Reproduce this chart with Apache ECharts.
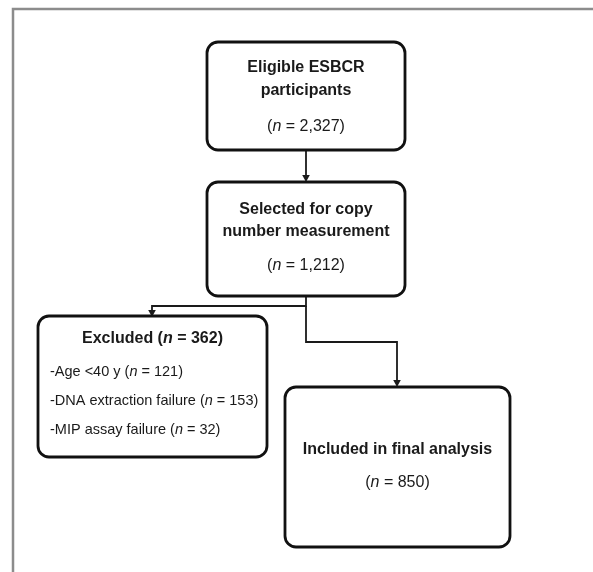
<!DOCTYPE html>
<html><head><meta charset="utf-8">
<script src="https://cdn.jsdelivr.net/npm/echarts@6/dist/echarts.min.js"></script>
<style>html,body{margin:0;padding:0;background:#fff}#c{width:593px;height:572px}</style>
</head><body><div id="c"></div>
<script>
// ---- content ----
const boxTitles = [['Eligible ESBCR', 'participants'], ['Selected for copy', 'number measurement'], ['Excluded'], ['Included in final analysis']];
const boxCounts = ['2,327', '1,212', '362', '850'];
const exclusionReasons = ['Age <40 y', 'DNA extraction failure', 'MIP assay failure'];
const exclusionCounts = ['121', '153', '32'];

// ---- layout (drawing coordinates on hidden 0..593 / 0..572 axes) ----
const layout = {
  boxes: [
    {x0: 207, x1: 405, y0: 42, y1: 150, titleY: [68, 91], countY: 127, inline: false},
    {x0: 207, x1: 405, y0: 182, y1: 296, titleY: [210, 232], countY: 266, inline: false},
    {x0: 38, x1: 267, y0: 316, y1: 457, titleY: [339], countY: null, inline: true},
    {x0: 285, x1: 510, y0: 387, y1: 547, titleY: [450], countY: 483, inline: false}
  ],
  reasonsX: 50,
  reasonsY: [372, 401, 430],
  connectors: [
    [[306, 150], [306, 182]],
    [[306, 296], [306, 306], [152, 306], [152, 317]],
    [[306, 306], [306, 342], [397, 342], [397, 387]]
  ],
  frame: [[13, 572], [13, 9], [593, 9]]
};

const FF = '"Liberation Sans", Arial, Helvetica, sans-serif';
const INK = '#1a1a1a';
function rich(size, weight) {
  return {
    i: {fontStyle: 'italic', fontWeight: weight, fontSize: size, fontFamily: FF, fill: INK}
  };
}

function renderItem(params, api) {
  const children = [];
  const P = (x, y) => api.coord([x, y]);
  // frame
  children.push({type: 'polyline', shape: {points: layout.frame.map(p => P(p[0], p[1]))},
    style: {stroke: '#8c8c8c', lineWidth: 2.5, fill: null}});
  // connectors
  layout.connectors.forEach(c => {
    const pts = c.map(p => P(p[0], p[1]));
    const end = pts[pts.length - 1], prev = pts[pts.length - 2];
    const dx = end[0] - prev[0], dy = end[1] - prev[1];
    const len = Math.hypot(dx, dy) || 1;
    const ux = dx / len, uy = dy / len;
    const h = 7, w = 3.8;
    const bx = end[0] - ux * h, by = end[1] - uy * h;
    const linePts = pts.slice(0, -1).concat([[bx, by]]);
    children.push({type: 'polyline', shape: {points: linePts}, style: {stroke: INK, lineWidth: 1.8, fill: null}});
    children.push({type: 'polygon', shape: {points: [end, [bx - uy * w, by + ux * w], [bx + uy * w, by - ux * w]]},
      style: {fill: INK}});
  });
  // boxes
  layout.boxes.forEach((b, k) => {
    const p0 = P(b.x0, b.y0), p1 = P(b.x1, b.y1);
    children.push({type: 'rect', shape: {x: p0[0], y: p0[1], width: p1[0] - p0[0], height: p1[1] - p0[1], r: 11},
      style: {stroke: '#111', lineWidth: 2.8, fill: '#fff'}});
    const cx = (p0[0] + p1[0]) / 2;
    const titles = boxTitles[k];
    titles.forEach((t, j) => {
      const isLast = j === titles.length - 1;
      const txt = (b.inline && isLast) ? t + ' ({i|n} = ' + boxCounts[k] + ')' : t;
      children.push({type: 'text', style: {
        text: txt, x: cx, y: P(0, b.titleY[j])[1], align: 'center', verticalAlign: 'middle',
        fontSize: 16, fontWeight: 'bold', fontFamily: FF, fill: INK, rich: rich(16, 'bold')}});
    });
    if (!b.inline && b.countY != null) {
      children.push({type: 'text', style: {
        text: '({i|n} = ' + boxCounts[k] + ')', x: cx, y: P(0, b.countY)[1], align: 'center', verticalAlign: 'middle',
        fontSize: 16, fontWeight: 'normal', fontFamily: FF, fill: INK, rich: rich(16, 'normal')}});
    }
  });
  // exclusion reasons
  exclusionReasons.forEach((r, j) => {
    const pt = P(layout.reasonsX, layout.reasonsY[j]);
    children.push({type: 'text', style: {
      text: '-' + r + ' ({i|n} = ' + exclusionCounts[j] + ')', x: pt[0], y: pt[1], align: 'left', verticalAlign: 'middle',
      fontSize: 14.5, fontWeight: 'normal', fontFamily: FF, fill: INK, rich: rich(14.5, 'normal')}});
  });
  return {type: 'group', children};
}

const chart = echarts.init(document.getElementById('c'), null, {renderer: 'canvas'});
chart.setOption({
  backgroundColor: '#fff',
  animation: false,
  grid: {left: 0, right: 0, top: 0, bottom: 0},
  xAxis: {type: 'value', min: 0, max: 593, show: false},
  yAxis: {type: 'value', min: 0, max: 572, inverse: true, show: false},
  series: [{type: 'custom', renderItem, data: [[0, 0]], clip: false, silent: true}]
});
</script></body></html>
